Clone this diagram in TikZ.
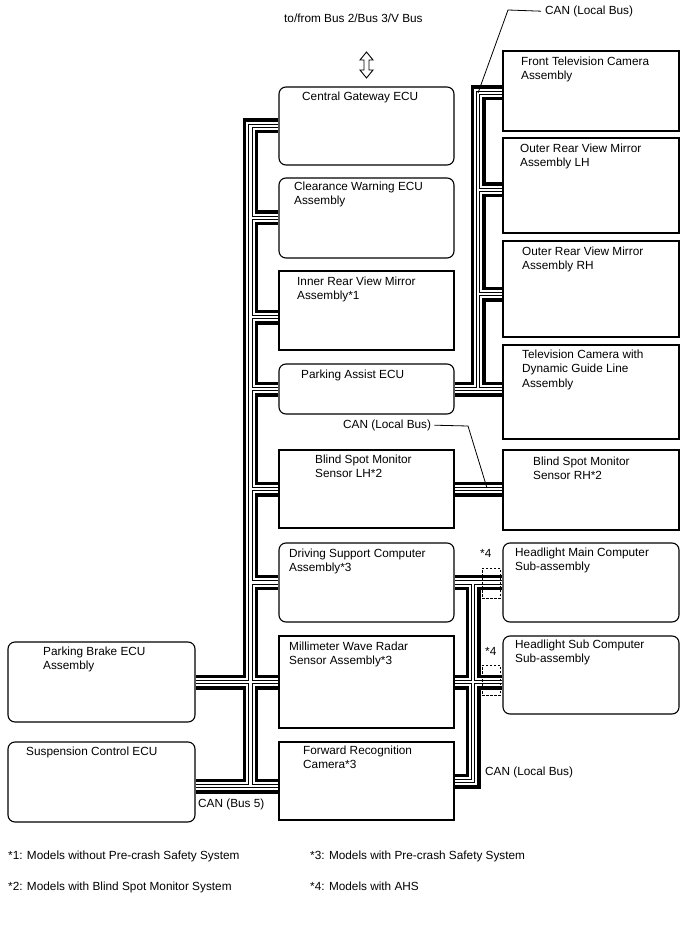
\documentclass[tikz,border=0pt]{standalone}
\usepackage{fontspec}
\setmainfont{Liberation Sans}
\pgfdeclarelayer{bg}
\pgfsetlayers{bg,main}
\begin{document}
\begin{tikzpicture}[x=1pt,y=-1pt,
  every node/.style={font=\fontsize{11.8}{14.5}\selectfont},
  rbox/.style={draw, line width=1.1pt, fill=white, rounded corners=7pt, inner sep=0pt},
  sbox/.style={draw, line width=1.1pt, fill=white, inner sep=0pt},
  lw/.style={minimum width=175pt},
  rw/.style={minimum width=176pt},
  txt/.style={anchor=north west, inner sep=0pt, align=left},
  bus/.style={draw=black, line width=15pt, line join=miter, line cap=butt,
    postaction={draw=white, line width=8.4pt},
    postaction={draw=black, line width=4.4pt},
    postaction={draw=white, line width=2.2pt}},
  leader/.style={draw, line width=0.8pt},
  dbox/.style={draw, line width=1pt, dash pattern=on 2.5pt off 1.5pt, inner sep=0pt, minimum width=18pt, minimum height=30pt}
]
\useasboundingbox (0,0) rectangle (688,949);

% ---------- boxes ----------
\node[rbox, lw, minimum height=78pt] (CG)  at (366.5,126) {};
\node[rbox, lw, minimum height=80pt] (CW)  at (366.5,218) {};
\node[sbox, lw, minimum height=79pt] (IR)  at (366.5,310.5) {};
\node[rbox, lw, minimum height=50pt] (PA)  at (366.5,389) {};
\node[sbox, lw, minimum height=78pt] (BSL) at (366.5,489) {};
\node[rbox, lw, minimum height=79pt] (DS)  at (366.5,582.5) {};
\node[sbox, lw, minimum height=92pt] (MW)  at (366.5,682) {};
\node[sbox, lw, minimum height=78pt] (FR)  at (366.5,781) {};

\node[sbox, rw, minimum height=80pt] (FTV) at (591,91) {};
\node[sbox, rw, minimum height=95pt] (ORL) at (591,185.5) {};
\node[sbox, rw, minimum height=96pt] (ORR) at (591,289) {};
\node[sbox, rw, minimum height=94pt] (TVC) at (591,392) {};
\node[sbox, rw, minimum height=80pt] (BSR) at (591,490) {};
\node[rbox, rw, minimum height=79pt] (HM)  at (591,582.5) {};
\node[rbox, rw, minimum height=78pt] (HS)  at (591,675) {};

\node[rbox, minimum width=187pt, minimum height=80pt] (PB) at (101.5,682) {};
\node[rbox, minimum width=187pt, minimum height=80pt] (SC) at (101.5,782) {};

% ---------- box texts ----------
\node[txt] (tCG)  at (302,92)    {Central Gateway ECU};
\node[txt] (tCW)  at (294,181.5) {Clearance Warning ECU\\Assembly};
\node[txt] (tIR)  at (297,276.5) {Inner Rear View Mirror\\Assembly*1};
\node[txt] (tPA)  at (301,369.5) {Parking Assist ECU};
\node[txt] (tBSL) at (315,454.5) {Blind Spot Monitor\\Sensor LH*2};
\node[txt] (tDS)  at (289,548.5) {Driving Support Computer\\Assembly*3};
\node[txt] (tMW)  at (289,641.5) {Millimeter Wave Radar\\Sensor Assembly*3};
\node[txt] (tFR)  at (303,745.5) {Forward Recognition\\Camera*3};
\node[txt] (tFTV) at (521,56.5)  {Front Television Camera\\Assembly};
\node[txt] (tORL) at (520,143.5) {Outer Rear View Mirror\\Assembly LH};
\node[txt] (tORR) at (522,246.5) {Outer Rear View Mirror\\Assembly RH};
\node[txt] (tTVC) at (522,349.5) {Television Camera with\\Dynamic Guide Line\\Assembly};
\node[txt] (tBSR) at (533,456.5) {Blind Spot Monitor\\Sensor RH*2};
\node[txt] (tHM)  at (515,547.5) {Headlight Main Computer\\Sub-assembly};
\node[txt] (tHS)  at (515,639.5) {Headlight Sub Computer\\Sub-assembly};
\node[txt] (tPB)  at (43,646.5)  {Parking Brake ECU\\Assembly};
\node[txt] (tSC)  at (26,746.5)  {Suspension Control ECU};

% ---------- free labels ----------
\node[txt] (top)   at (284,13.5)  {to/from Bus 2/Bus 3/V Bus};
\node[txt] (canT)  at (545,5.5)   {CAN (Local Bus)};
\node[txt] (canM)  at (343,419.5) {CAN (Local Bus)};
\node[txt] (canB)  at (485,766.5) {CAN (Local Bus)};
\node[txt] (can5)  at (198,798.5) {CAN (Bus 5)};
\node[txt] (s4a)   at (480,549)   {*4};
\node[txt] (s4b)   at (485,647.5) {*4};
\node[txt] (f1) at (8,850.5)   {*1: Models without Pre-crash Safety System};
\node[txt] (f2) at (8,881.5)   {*2: Models with Blind Spot Monitor System};
\node[txt] (f3) at (310,850.5) {*3: Models with Pre-crash Safety System};
\node[txt] (f4) at (310,881.5) {*4: Models with AHS};

% ---------- bus coordinates ----------
\coordinate (LT) at (250.5,126);
\coordinate (LB) at (250.5,786);
\coordinate (L2) at (250.5,218);
\coordinate (L3) at (250.5,317);
\coordinate (L4) at (250.5,389);
\coordinate (L5) at (250.5,489);
\coordinate (L6) at (250.5,582.5);
\coordinate (RT) at (478,93);
\coordinate (RB) at (478,389);
\coordinate (R2) at (478,190);
\coordinate (R3) at (478,294);
\coordinate (QT) at (473,582.5);
\coordinate (QB) at (473,781);

% ---------- buses (beneath boxes) ----------
\begin{pgfonlayer}{bg}
\path[bus] (CG.west) -- (LT) -- (LB)
  (L2) -- (CW.west)
  (L3) -- (L3 -| IR.west)
  (L4) -- (PA.west)
  (L5) -- (BSL.west)
  (L6) -- (DS.west)
  (PB.east) -- (MW.west)
  (LB -| SC.east) -- (LB -| FR.west);
\path[bus] (RT -| FTV.west) -- (RT) -- (RB)
  (R2) -- (R2 -| ORL.west)
  (R3) -- (R3 -| ORR.west)
  (PA.east) -- (PA.east -| TVC.west);
\path[bus] (BSL.east) -- (BSL.east -| BSR.west);
\path[bus] (DS.east) -- (HM.west)
  (QT) -- (QB) -- (FR.east)
  (MW.east) -- (MW.east -| HS.west);
\end{pgfonlayer}

% ---------- *4 dashed frames ----------
\node[dbox] (D1) at (491,583) {};
\node[dbox] (D2) at (491,680) {};

% ---------- leaders ----------
\coordinate (kT) at (508,10);
\coordinate (kM) at (468,426);
\path[leader] (canT.west) ++(-4,0) -- (kT) -- (RT);
\path[leader] (canM.east) ++(3,0) -- (kM) -- (487,488);

% ---------- gateway double arrow ----------
\draw[line width=0.9pt, line join=miter, fill=white]
  (366.5,52) -- (373,60) -- (369,60) -- (369,70) -- (373,70) -- (366.5,78)
  -- (360,70) -- (364,70) -- (364,60) -- (360,60) -- cycle;
\end{tikzpicture}
\end{document}
